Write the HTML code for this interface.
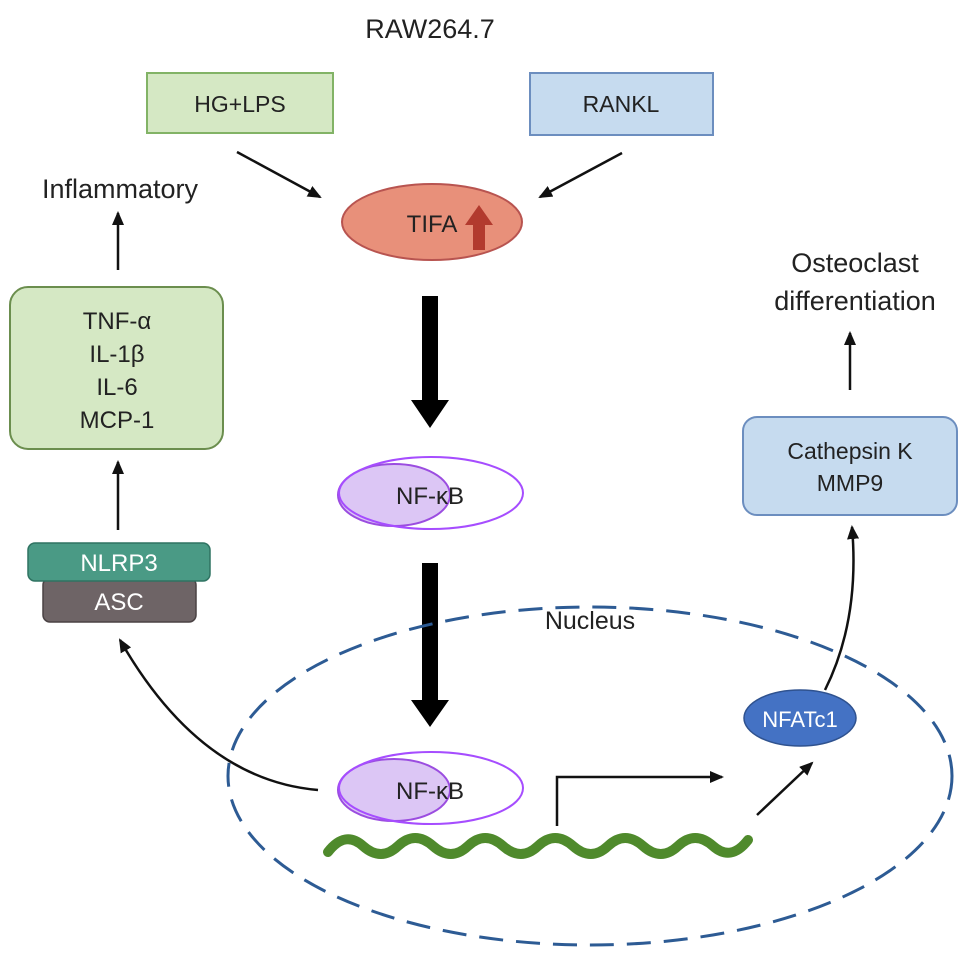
<!DOCTYPE html>
<html><head><style>body{margin:0;background:#fff}svg{display:block}text{font-family:"Liberation Sans",sans-serif;fill:#222}</style></head>
<body>
<svg width="969" height="962" viewBox="0 0 969 962">
<defs>
<marker id="a" markerWidth="14" markerHeight="12" refX="12" refY="6" orient="auto" markerUnits="userSpaceOnUse"><path d="M0,0 L14,6 L0,12 z" fill="#111"/></marker>
</defs>
<text x="430" y="38" font-size="27" text-anchor="middle">RAW264.7</text>
<rect x="147" y="73" width="186" height="60" fill="#d5e8c4" stroke="#82b366" stroke-width="2"/>
<text x="240" y="112" font-size="23" text-anchor="middle">HG+LPS</text>
<rect x="530" y="73" width="183" height="62" fill="#c6dbef" stroke="#6c8ebf" stroke-width="2"/>
<text x="621" y="112" font-size="23" text-anchor="middle">RANKL</text>
<line x1="237" y1="152" x2="320" y2="197" stroke="#111" stroke-width="2.5" marker-end="url(#a)"/>
<line x1="622" y1="153" x2="540" y2="197" stroke="#111" stroke-width="2.5" marker-end="url(#a)"/>
<ellipse cx="432" cy="222" rx="90" ry="38" fill="#e8907a" stroke="#b85450" stroke-width="2"/>
<text x="432" y="232" font-size="24" text-anchor="middle">TIFA</text>
<path d="M473,250 L473,225 L465,225 L479,205 L493,225 L485,225 L485,250 z" fill="#b23a2e"/>
<path d="M422,296 H438 V400 H449 L430,428 L411,400 H422 z" fill="#000"/>
<ellipse cx="394" cy="495" rx="56" ry="31" fill="#dcc6f5" stroke="#9b4de0" stroke-width="2"/>
<ellipse cx="431" cy="493" rx="92" ry="36" fill="none" stroke="#a64dff" stroke-width="2"/>
<text x="430" y="504" font-size="24" text-anchor="middle">NF-κB</text>
<path d="M422,563 H438 V700 H449 L430,727 L411,700 H422 z" fill="#000"/>
<ellipse cx="590" cy="776" rx="362" ry="169" fill="none" stroke="#2d5b94" stroke-width="3" stroke-dasharray="24 13"/>
<text x="590" y="629" font-size="25" text-anchor="middle">Nucleus</text>
<ellipse cx="394" cy="790" rx="56" ry="31" fill="#dcc6f5" stroke="#9b4de0" stroke-width="2"/>
<ellipse cx="431" cy="788" rx="92" ry="36" fill="none" stroke="#a64dff" stroke-width="2"/>
<text x="430" y="799" font-size="24" text-anchor="middle">NF-κB</text>
<path d="M328,852 q17,-22 35,-6 t35,0 t35,0 t35,0 t35,0 t35,0 t35,0 t35,0 t35,0 t35,0 t35,0 t35,-6" fill="none" stroke="#4f8a2c" stroke-width="10" stroke-linecap="round"/>
<path d="M557,826 V777 H722" fill="none" stroke="#111" stroke-width="2.5" marker-end="url(#a)"/>
<line x1="757" y1="815" x2="812" y2="763" stroke="#111" stroke-width="2.5" marker-end="url(#a)"/>
<ellipse cx="800" cy="718" rx="56" ry="28" fill="#4472c4" stroke="#2f528f" stroke-width="1.5"/>
<text x="800" y="727" font-size="22" text-anchor="middle" style="fill:#fff">NFATc1</text>
<path d="M825,690 Q860,620 852,527" fill="none" stroke="#111" stroke-width="2.5" marker-end="url(#a)"/>
<rect x="743" y="417" width="214" height="98" rx="14" fill="#c6dbef" stroke="#6c8ebf" stroke-width="2"/>
<text x="850" y="459" font-size="23" text-anchor="middle">Cathepsin K</text>
<text x="850" y="491" font-size="23" text-anchor="middle">MMP9</text>
<line x1="850" y1="390" x2="850" y2="333" stroke="#111" stroke-width="2.5" marker-end="url(#a)"/>
<text x="855" y="272" font-size="27" text-anchor="middle">Osteoclast</text>
<text x="855" y="310" font-size="27" text-anchor="middle">differentiation</text>
<text x="120" y="198" font-size="27" text-anchor="middle">Inflammatory</text>
<line x1="118" y1="270" x2="118" y2="213" stroke="#111" stroke-width="2.5" marker-end="url(#a)"/>
<rect x="10" y="287" width="213" height="162" rx="18" fill="#d5e8c4" stroke="#6b8e4e" stroke-width="2"/>
<text x="117" y="329" font-size="24" text-anchor="middle">TNF-α</text>
<text x="117" y="362" font-size="24" text-anchor="middle">IL-1β</text>
<text x="117" y="395" font-size="24" text-anchor="middle">IL-6</text>
<text x="117" y="428" font-size="24" text-anchor="middle">MCP-1</text>
<line x1="118" y1="530" x2="118" y2="462" stroke="#111" stroke-width="2.5" marker-end="url(#a)"/>
<rect x="43" y="578" width="153" height="44" rx="7" fill="#6e6466" stroke="#4a4244" stroke-width="1.5"/>
<text x="119" y="610" font-size="24" text-anchor="middle" style="fill:#fff">ASC</text>
<rect x="28" y="543" width="182" height="38" rx="7" fill="#4a9a85" stroke="#2f7362" stroke-width="1.5"/>
<text x="119" y="571" font-size="24" text-anchor="middle" style="fill:#fff">NLRP3</text>
<path d="M318,790 Q200,780 120,640" fill="none" stroke="#111" stroke-width="2.5" marker-end="url(#a)"/>
</svg>
</body></html>
